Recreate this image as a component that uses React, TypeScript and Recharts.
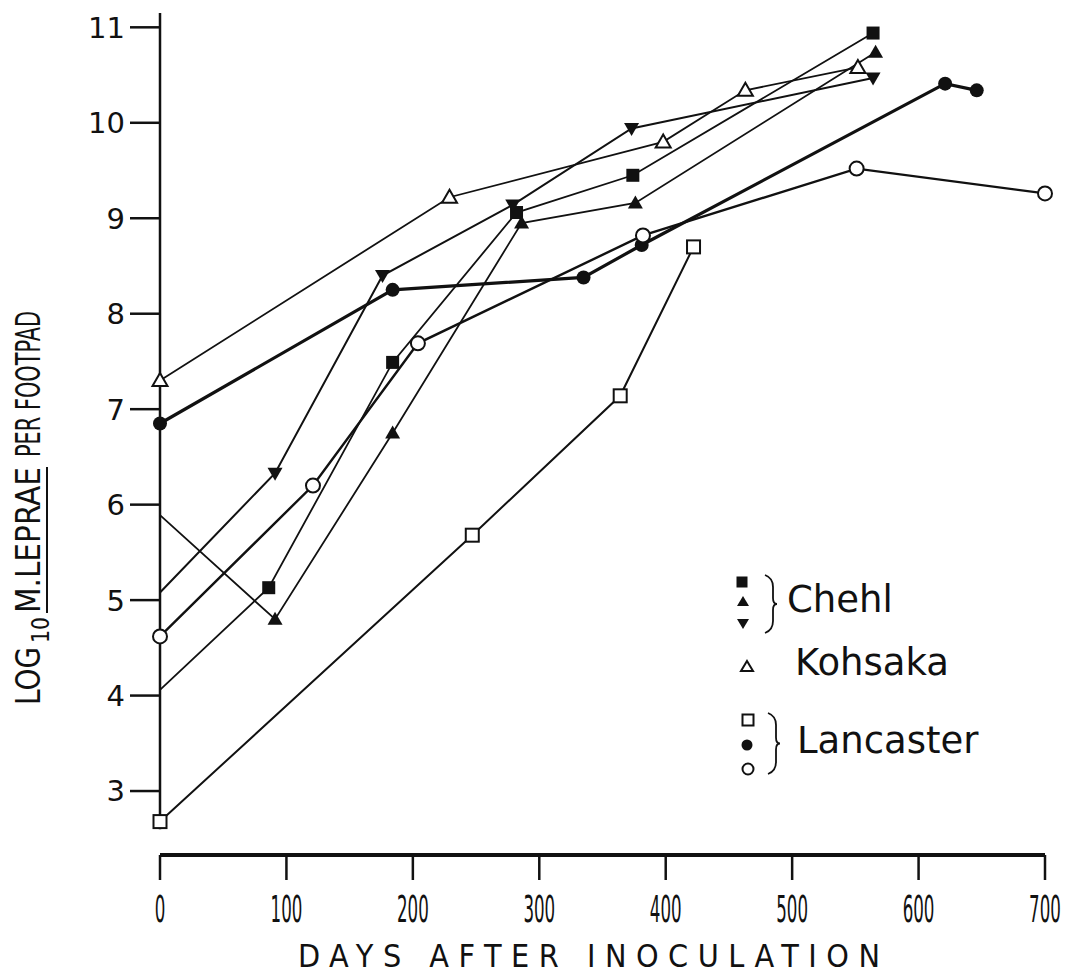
import React from "react";
import { LineChart, Line, XAxis, YAxis, ReferenceLine } from "recharts";

// days after inoculation / log10 M. leprae per footpad
const chehlSquareDays = [0, 86, 184, 282, 374, 564];
const chehlSquareLog = [4.06, 5.13, 7.49, 9.06, 9.45, 10.94];

const chehlUpDays = [0, 91, 184, 286, 376, 566];
const chehlUpLog = [5.89, 4.8, 6.75, 8.95, 9.16, 10.74];

const chehlDownDays = [0, 91, 176, 279, 373, 564];
const chehlDownLog = [5.08, 6.33, 8.4, 9.14, 9.94, 10.47];

const kohsakaDays = [0, 229, 398, 463, 552];
const kohsakaLog = [7.3, 9.22, 9.8, 10.34, 10.58];

const lancSquareDays = [0, 247, 364, 422];
const lancSquareLog = [2.68, 5.68, 7.14, 8.7];

const lancDotDays = [0, 184, 335, 381, 621, 646];
const lancDotLog = [6.85, 8.25, 8.38, 8.72, 10.41, 10.34];

const lancCircleDays = [0, 121, 204, 382, 551, 700];
const lancCircleLog = [4.62, 6.2, 7.69, 8.82, 9.52, 9.26];

const xTicks = [0, 100, 200, 300, 400, 500, 600, 700];
const yTicks = [3, 4, 5, 6, 7, 8, 9, 10, 11];

const zip = (days: number[], vals: number[]) =>
  days.map((day, i) => ({ day, v: vals[i] }));

const FONT = "'DejaVu Sans', sans-serif";
const COND = "'DejaVu Sans Condensed', 'DejaVu Sans', sans-serif";
const INK = "#111";
const W = 1067;
const H = 965;

type Kind = "sqFill" | "up" | "down" | "triOpen" | "sqOpen" | "dot" | "circle";

const Marker = ({ kind, cx, cy, s }: { kind: Kind; cx: number; cy: number; s: number }) => {
  const h = s / 2;
  switch (kind) {
    case "sqFill":
      return <rect x={cx - h} y={cy - h} width={s} height={s} fill={INK} />;
    case "sqOpen":
      return <rect x={cx - h} y={cy - h} width={s} height={s} fill="#fff" stroke={INK} strokeWidth={2} />;
    case "up":
      return <path d={`M${cx},${cy - h - 1}L${cx + h + 1},${cy + h - 1}L${cx - h - 1},${cy + h - 1}Z`} fill={INK} />;
    case "down":
      return <path d={`M${cx},${cy + h + 1}L${cx + h + 1},${cy - h + 1}L${cx - h - 1},${cy - h + 1}Z`} fill={INK} />;
    case "triOpen":
      return <path d={`M${cx},${cy - h - 1}L${cx + h + 1},${cy + h - 1}L${cx - h - 1},${cy + h - 1}Z`} fill="#fff" stroke={INK} strokeWidth={2} />;
    case "dot":
      return <circle cx={cx} cy={cy} r={h} fill={INK} />;
    case "circle":
      return <circle cx={cx} cy={cy} r={h} fill="#fff" stroke={INK} strokeWidth={2} />;
  }
  return null;
};

const dotFor = (kind: Kind, skipFirst: boolean) => (props: any) => {
  const { cx, cy, index } = props;
  if (skipFirst && index === 0) return <g key={`d${kind}${index}`} />;
  return (
    <g key={`d${kind}${index}`}>
      <Marker kind={kind} cx={cx} cy={cy} s={kind === "dot" || kind === "circle" ? 14 : 13} />
    </g>
  );
};

const series = [
  { id: "chehlSq", data: zip(chehlSquareDays, chehlSquareLog), kind: "sqFill" as Kind, skip: true, w: 1.8 },
  { id: "chehlUp", data: zip(chehlUpDays, chehlUpLog), kind: "up" as Kind, skip: true, w: 1.8 },
  { id: "chehlDown", data: zip(chehlDownDays, chehlDownLog), kind: "down" as Kind, skip: true, w: 2 },
  { id: "kohsaka", data: zip(kohsakaDays, kohsakaLog), kind: "triOpen" as Kind, skip: false, w: 1.8 },
  { id: "lancSq", data: zip(lancSquareDays, lancSquareLog), kind: "sqOpen" as Kind, skip: false, w: 2 },
  { id: "lancDot", data: zip(lancDotDays, lancDotLog), kind: "dot" as Kind, skip: false, w: 3.2 },
  { id: "lancCircle", data: zip(lancCircleDays, lancCircleLog), kind: "circle" as Kind, skip: false, w: 2.4 },
];

// condensed tick numbers: squeeze horizontally with a transform
const XTick = (props: any) => {
  const { x, y, payload } = props;
  return (
    <g transform={`translate(${x},${y}) scale(0.5,1)`}>
      <text x={0} y={0} dy="0.71em" textAnchor="middle" fontFamily={COND} fontSize={37} fill={INK}>
        {payload.value}
      </text>
    </g>
  );
};

const YTick = (props: any) => {
  const { x, y, payload } = props;
  return (
    <text x={x} y={y} dy="0.36em" textAnchor="end" fontFamily={FONT} fontSize={29} fill={INK}>
      {payload.value}
    </text>
  );
};

const Brace = ({ x, y1, y2 }: { x: number; y1: number; y2: number }) => {
  const m = (y1 + y2) / 2;
  return (
    <path
      d={`M${x},${y1} Q${x + 8},${y1 + 3} ${x + 8},${y1 + 12} L${x + 8},${m - 6} Q${x + 8},${m} ${x + 12},${m} Q${x + 8},${m} ${x + 8},${m + 6} L${x + 8},${y2 - 12} Q${x + 8},${y2 - 3} ${x},${y2}`}
      fill="none" stroke={INK} strokeWidth={1.8}
    />
  );
};

const Overlay = () => (
  <svg width={W} height={H + 6} style={{ position: "absolute", left: 0, top: 0, pointerEvents: "none" }}>
    {/* y axis title */}
    <g transform="translate(32,697) rotate(-90)" fontFamily={COND} fill={INK}>
      <text x={0} y={0} fontSize={33} textLength={58} lengthAdjust="spacingAndGlyphs">LOG</text>
      <text x={62} y={9} fontSize={25} textLength={26} lengthAdjust="spacingAndGlyphs">10</text>
      <text x={92} y={0} fontSize={33} textLength={146} lengthAdjust="spacingAndGlyphs">M.LEPRAE</text>
      <line x1={92} x2={238} y1={7} y2={7} stroke={INK} strokeWidth={2} />
      <text x={248} y={0} fontSize={33} textLength={146} lengthAdjust="spacingAndGlyphs">PER FOOTPAD</text>
    </g>
    {/* x axis title */}
    <text x={290} y={959} fontFamily={COND} fontSize={32} fill={INK} textLength={582} lengthAdjust="spacing">
      DAYS AFTER INOCULATION
    </text>
    {/* legend */}
    <g fontFamily={FONT} fontSize={37} fill={INK}>
      <Marker kind="sqFill" cx={734} cy={574} s={11} />
      <Marker kind="up" cx={735} cy={594} s={10} />
      <Marker kind="down" cx={735} cy={615} s={10} />
      <Brace x={757} y1={567} y2={625} />
      <text x={779} y={604}>Chehl</text>
      <Marker kind="triOpen" cx={739} cy={659} s={10} />
      <text x={787} y={667}>Kohsaka</text>
      <Marker kind="sqOpen" cx={740} cy={712} s={11} />
      <Marker kind="dot" cx={739} cy={737} s={11} />
      <Marker kind="circle" cx={740} cy={761} s={11} />
      <Brace x={760} y1={705} y2={766} />
      <text x={789} y={745}>Lancaster</text>
    </g>
  </svg>
);

export default function App() {
  return (
    <div style={{ position: "relative", width: W, height: H, background: "#fff" }}>
      <LineChart width={W} height={H} margin={{ top: 5, right: 30, bottom: 8, left: 0 }}>
        <XAxis
          type="number"
          dataKey="day"
          domain={[0, 700]}
          ticks={xTicks}
          height={110}
          axisLine={{ stroke: INK, strokeWidth: 4 }}
          tickLine={{ stroke: INK, strokeWidth: 2.5 }}
          tickSize={25}
          tickMargin={16}
          tick={<XTick />}
          interval={0}
        />
        <YAxis
          type="number"
          dataKey="v"
          domain={[2.33, 11.15]}
          ticks={yTicks}
          width={152}
          axisLine={false}
          tickLine={{ stroke: INK, strokeWidth: 2.5 }}
          tickSize={30}
          tickMargin={5}
          tick={<YTick />}
          interval={0}
        />
        <ReferenceLine
          segment={[{ x: 0, y: 2.6 }, { x: 0, y: 11.15 }]}
          stroke={INK}
          strokeWidth={2.5}
        />
        {series.map((s) => (
          <Line
            key={s.id}
            data={s.data}
            dataKey="v"
            type="linear"
            stroke={INK}
            strokeWidth={s.w}
            dot={dotFor(s.kind, s.skip)}
            activeDot={false}
            isAnimationActive={false}
          />
        ))}
      </LineChart>
      <Overlay />
    </div>
  );
}
